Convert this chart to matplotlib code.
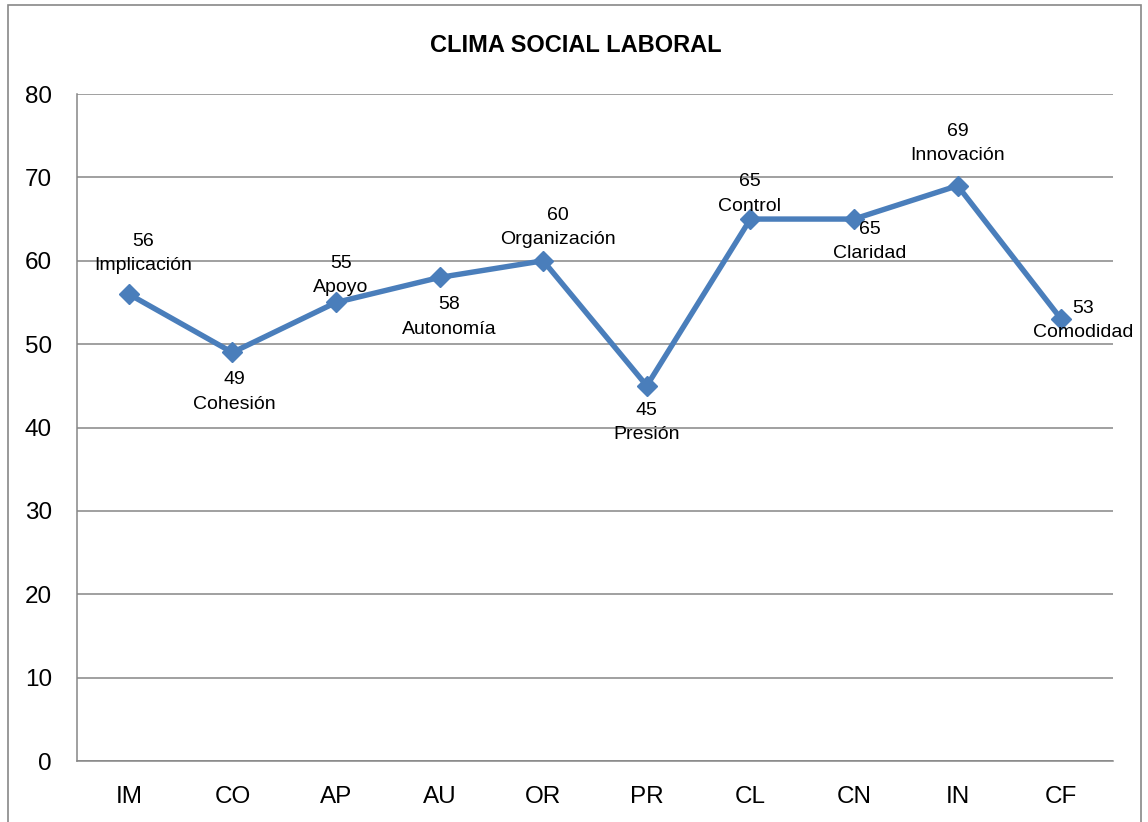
import matplotlib
matplotlib.use("Agg")
import matplotlib.pyplot as plt
from matplotlib.patches import Rectangle

plt.rcParams['font.family'] = ['Liberation Sans', 'DejaVu Sans']

categories = ["IM", "CO", "AP", "AU", "OR", "PR", "CL", "CN", "IN", "CF"]
values = [56, 49, 55, 58, 60, 45, 65, 65, 69, 53]
names = ["Implicación", "Cohesión", "Apoyo", "Autonomía", "Organización",
         "Presión", "Control", "Claridad", "Innovación", "Comodidad"]
title = "CLIMA SOCIAL LABORAL"

# label offsets in pixels (dx right, dy down) for the two-line data labels
label_offsets_px = [(14, -41), (2, 39.5), (5, -27), (10, 39.5), (15, -33),
                    (0, 37), (-1, -25), (16, 22.5), (0, -42), (22, 1.5)]

W, H = 1148, 822
fig = plt.figure(figsize=(W / 100, H / 100), dpi=100)
ax = fig.add_axes([77 / W, 1 - 761 / H, (1113 - 77) / W, (761 - 94) / H])

line_color = "#4A7EBB"
grid_color = "#868686"

x = list(range(len(categories)))
ax.plot(x, values, color=line_color, lw=3.9, marker="D", ms=10,
        markerfacecolor=line_color, markeredgecolor=line_color, zorder=3)

for i, (v, n) in enumerate(zip(values, names)):
    dx, dy = label_offsets_px[i]
    ax.annotate(f"{v}\n{n}", (i, v), xytext=(dx * 0.72, -dy * 0.72),
                textcoords="offset points", ha="center", va="center",
                fontsize=14, linespacing=1.55, color="black", zorder=4)

ax.set_xlim(-0.5, len(categories) - 0.5)
ax.set_ylim(0, 80)
ax.set_yticks(range(0, 81, 10))
ax.set_xticks(x)
ax.set_xticklabels(categories)
ax.tick_params(axis="both", length=0, labelsize=17.5)
ax.tick_params(axis="y", pad=18)
ax.tick_params(axis="x", pad=18)
ax.yaxis.grid(True, color=grid_color, lw=1.1)
ax.set_axisbelow(True)
for s in ["top", "right"]:
    ax.spines[s].set_visible(False)
for s in ["left", "bottom"]:
    ax.spines[s].set_color(grid_color)
    ax.spines[s].set_linewidth(1.1)

fig.text(576 / W, 1 - 45 / H, title, ha="center", va="center",
         fontsize=17, fontweight="bold")

fig.patches.append(Rectangle((8 / W, -0.05), (1141 - 8) / W, 1.05 - 5 / H,
                             transform=fig.transFigure, fill=False,
                             edgecolor="#888888", lw=1.2))

fig.savefig("out.png", dpi=100)
